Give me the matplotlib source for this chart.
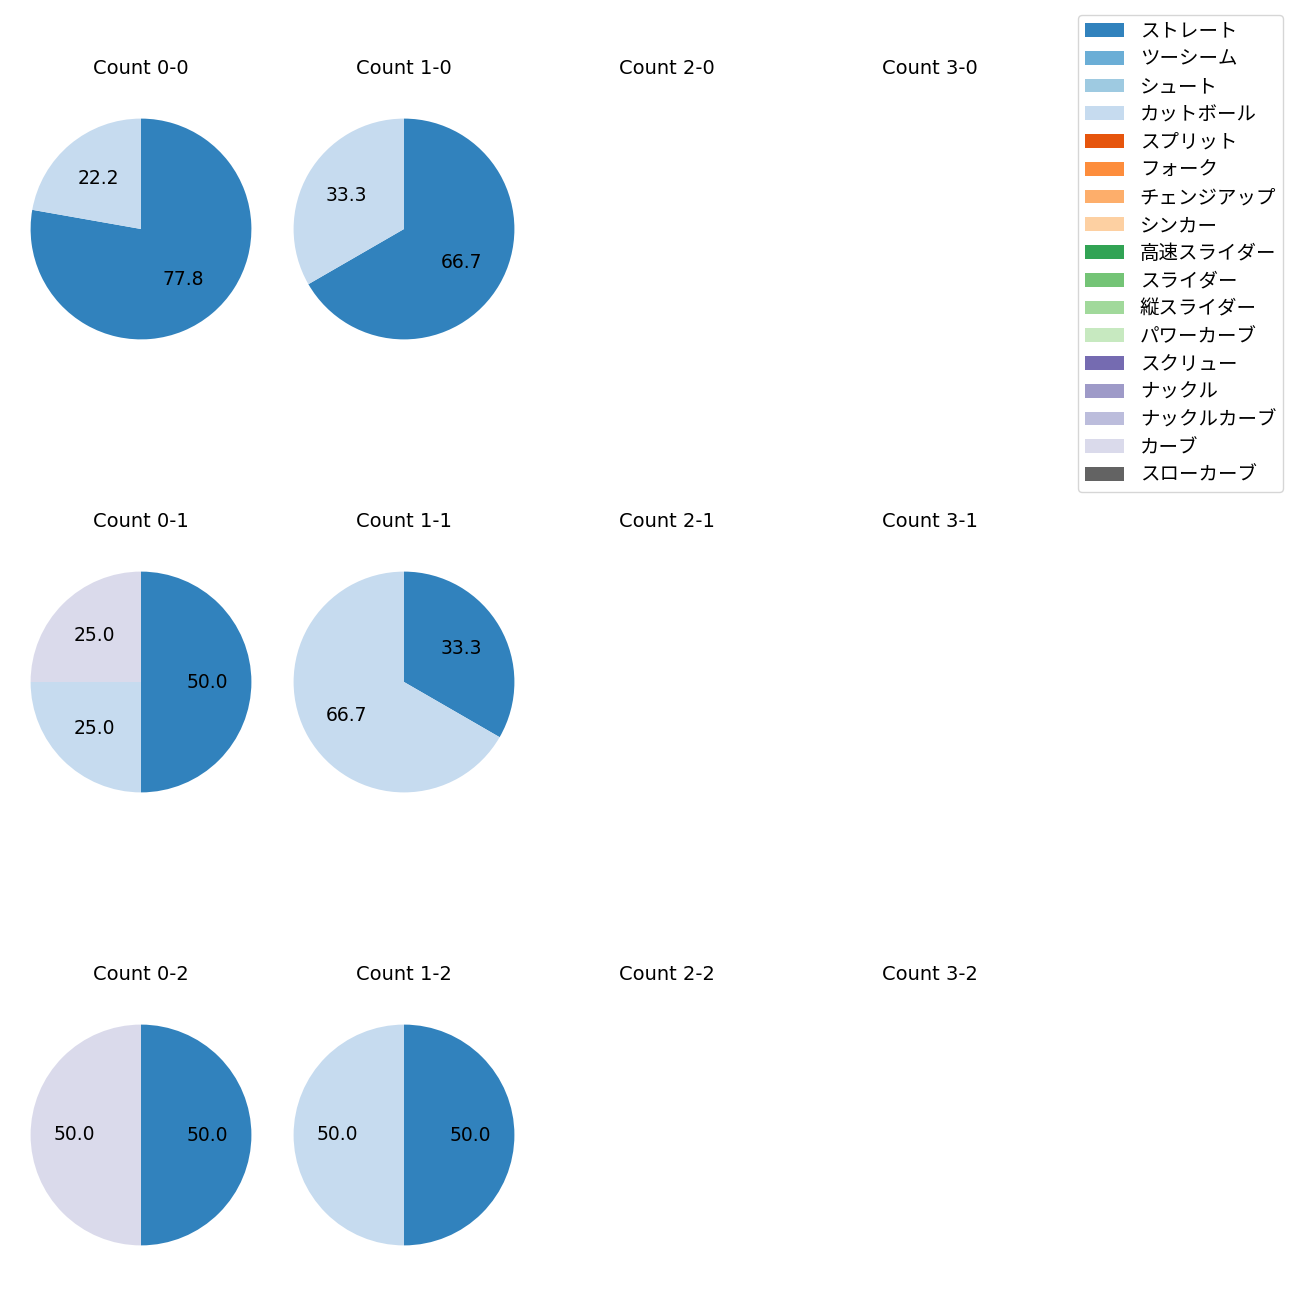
import matplotlib
matplotlib.use("Agg")
import matplotlib.pyplot as plt
from matplotlib.patches import Patch

plt.rcParams['font.family'] = ['DejaVu Sans', 'Noto Sans CJK JP']

pitch_types = ["ストレート", "ツーシーム", "シュート", "カットボール", "スプリット", "フォーク",
               "チェンジアップ", "シンカー", "高速スライダー", "スライダー", "縦スライダー",
               "パワーカーブ", "スクリュー", "ナックル", "ナックルカーブ", "カーブ", "スローカーブ"]

balls = [0, 1, 2, 3]
strikes = [0, 1, 2]

# counts per (balls, strikes): dict pitch type -> number of pitches
count_0_0 = {"ストレート": 7, "カットボール": 2}
count_1_0 = {"ストレート": 2, "カットボール": 1}
count_2_0 = {}
count_3_0 = {}
count_0_1 = {"ストレート": 2, "カットボール": 1, "カーブ": 1}
count_1_1 = {"ストレート": 1, "カットボール": 2}
count_2_1 = {}
count_3_1 = {}
count_0_2 = {"ストレート": 1, "カーブ": 1}
count_1_2 = {"ストレート": 1, "カットボール": 1}
count_2_2 = {}
count_3_2 = {}

data = {
    (0, 0): count_0_0, (1, 0): count_1_0, (2, 0): count_2_0, (3, 0): count_3_0,
    (0, 1): count_0_1, (1, 1): count_1_1, (2, 1): count_2_1, (3, 1): count_3_1,
    (0, 2): count_0_2, (1, 2): count_1_2, (2, 2): count_2_2, (3, 2): count_3_2,
}

cmap = plt.get_cmap("tab20c")
colors = {p: cmap(i) for i, p in enumerate(pitch_types)}

fig, axes = plt.subplots(3, 4, figsize=(13, 13), dpi=100,
                         gridspec_kw=dict(left=3/1300, right=1068/1300,
                                          top=1-91/1300, bottom=1-1273/1300,
                                          wspace=263/276-1, hspace=453/276-1))

for r, s in enumerate(strikes):
    for c, b in enumerate(balls):
        ax = axes[r, c]
        d = data[(b, s)]
        vals = [d[p] for p in pitch_types if d.get(p, 0) > 0]
        cols = [colors[p] for p in pitch_types if d.get(p, 0) > 0]
        if vals:
            ax.pie(vals, colors=cols, startangle=90, counterclock=False,
                   autopct='%.1f', textprops={'fontsize': 13.5})
        else:
            ax.set_xlim(-1.25, 1.25)
            ax.set_ylim(-1.25, 1.25)
            ax.set_aspect('equal')
            ax.axis('off')
        ax.set_title(f"Count {b}-{s}", fontsize=14, pad=12)

handles = [Patch(facecolor=colors[p], label=p) for p in pitch_types]
fig.legend(handles=handles, loc='upper right', bbox_to_anchor=(1283/1300, 1-15/1300),
           borderaxespad=0, fontsize=14, labelspacing=0.45, borderpad=0.35)

fig.savefig("out.png", dpi=100)
